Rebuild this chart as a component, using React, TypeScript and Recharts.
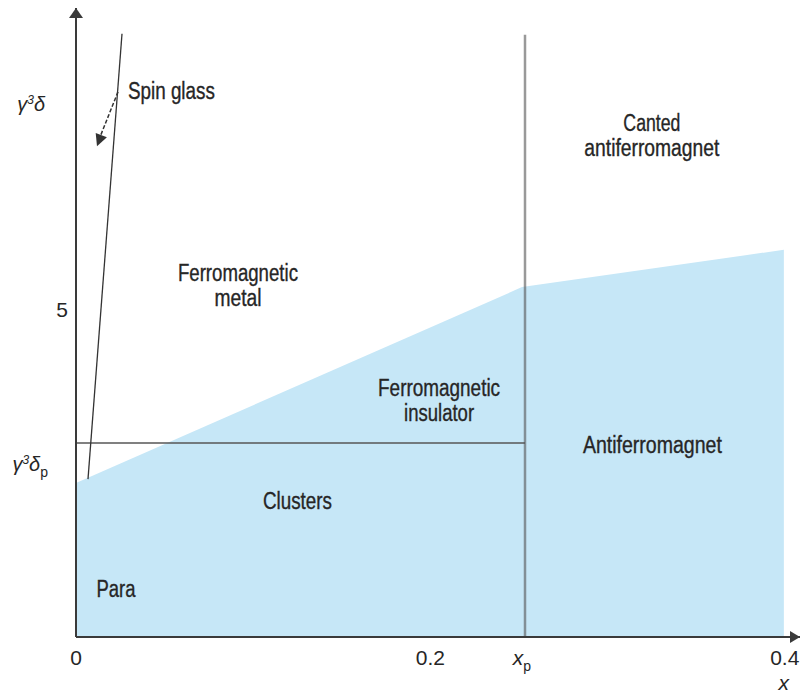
import React from 'react';
import { ComposedChart, Area, XAxis, YAxis, ReferenceLine, ReferenceDot } from 'recharts';

// ---- data ----
const X_MAX = 0.4086;
const Y_MAX = 9.6;
const XP = 0.2534;

const boundaryX = [0, 0.2517, 0.3995];
const boundaryY = [2.35, 5.34, 5.91];

const xTicks = [0, 0.2, XP, 0.4];
const xTickLabels = ['0', '0.2', 'xp', '0.4'];
const yTicks = [2.6, 5, 8.1];
const yTickLabels = ['γ3δp', '5', 'γ3δ'];

const clusterLineY = 2.96;
const xpLineTop = 9.19;
const spinGlassX = [0.00677, 0.02596];
const spinGlassY = [2.41, 9.206];
const spinArrowX = [0.0237, 0.0125];
const spinArrowY = [8.32, 7.56];

const regionNames = [
  { lines: ['Spin glass'], widths: [87], x: 0.0293, y: 8.21, anchor: 'start' },
  { lines: ['Canted', 'antiferromagnet'], widths: [57, 135], x: 0.325, y: 7.725, anchor: 'middle' },
  { lines: ['Ferromagnetic', 'metal'], widths: [120, 47], x: 0.0914, y: 5.435, anchor: 'middle' },
  { lines: ['Ferromagnetic', 'insulator'], widths: [122, 70], x: 0.2049, y: 3.679, anchor: 'middle' },
  { lines: ['Antiferromagnet'], widths: [139], x: 0.3253, y: 2.809, anchor: 'middle' },
  { lines: ['Clusters'], widths: [69], x: 0.125, y: 1.954, anchor: 'middle' },
  { lines: ['Para'], widths: [39], x: 0.02257, y: 0.611, anchor: 'middle' },
];

const areaData = boundaryX.map((x, i) => ({ x, y: boundaryY[i] }));

const FONT = "'Liberation Sans', Arial, sans-serif";
const TEXT_COLOR = '#262626';
const AXIS_COLOR = '#3a3a3a';

const XTick = (props: any) => {
  const { x, y, payload } = props;
  const idx = xTicks.indexOf(payload.value);
  const label = xTickLabels[idx];
  const base = y + 28;
  if (label === 'xp') {
    return (
      <text x={x - 3} y={base} textAnchor="middle" fontFamily={FONT} fontSize={21} fill={TEXT_COLOR}>
        <tspan fontStyle="italic">x</tspan>
        <tspan fontSize={14} dy={6}>p</tspan>
      </text>
    );
  }
  return (
    <g>
      <text x={x} y={base} textAnchor="middle" fontFamily={FONT} fontSize={21} fill={TEXT_COLOR}>
        {label}
      </text>
      {payload.value === 0.4 && (
        <text x={x - 1} y={base + 25} textAnchor="middle" fontFamily={FONT} fontSize={21} fontStyle="italic" fill={TEXT_COLOR}>
          x
        </text>
      )}
    </g>
  );
};

const YTick = (props: any) => {
  const { x, y, payload } = props;
  const idx = yTicks.indexOf(payload.value);
  const label = yTickLabels[idx];
  if (label === '5') {
    return (
      <text x={x - 8} y={y + 7.5} textAnchor="end" fontFamily={FONT} fontSize={21} fill={TEXT_COLOR}>
        5
      </text>
    );
  }
  if (label === 'γ3δ') {
    return (
      <text x={x - 31} y={y + 5} textAnchor="end" fontFamily={FONT} fontSize={20} fontStyle="italic" fill={TEXT_COLOR}>
        <tspan>γ</tspan>
        <tspan fontSize={12} dy={-7}>3</tspan>
        <tspan dy={7}>δ</tspan>
      </text>
    );
  }
  return (
    <text x={x - 28} y={y + 4} textAnchor="end" fontFamily={FONT} fontSize={20} fontStyle="italic" fill={TEXT_COLOR}>
      <tspan>γ</tspan>
      <tspan fontSize={12} dy={-7}>3</tspan>
      <tspan dy={7}>δ</tspan>
      <tspan fontSize={14} fontStyle="normal" dy={6}>p</tspan>
    </text>
  );
};

const arrowHead = (angle: number, len: number, half: number, color: string) => (p: any) => (
  <polygon
    points={`0,0 ${-len},${-half} ${-len},${half}`}
    transform={`translate(${p.cx},${p.cy}) rotate(${angle})`}
    fill={color}
  />
);

const regionLabel = (item: any) => (p: any) => (
  <g>
    {item.lines.map((l: string, i: number) => (
      <text
        key={i}
        x={p.cx}
        y={p.cy + i * 25}
        textAnchor={item.anchor}
        fontFamily={FONT}
        fontSize={23}
        fill={TEXT_COLOR}
        stroke={TEXT_COLOR}
        strokeWidth={0.35}
        textLength={item.widths[i]}
        lengthAdjust="spacingAndGlyphs"
      >
        {l}
      </text>
    ))}
  </g>
);

export default function App() {
  return (
    <div style={{ position: 'absolute', left: 0, top: 0, width: 801, height: 698, background: '#fff' }}>
      <ComposedChart
        width={801}
        height={698}
        data={areaData}
        margin={{ top: 8, right: 1, bottom: 11, left: 0 }}
      >
        <XAxis
          type="number"
          dataKey="x"
          domain={[0, X_MAX]}
          allowDataOverflow
          ticks={xTicks}
          interval={0}
          tick={<XTick />}
          tickLine={false}
          tickSize={0}
          tickMargin={0}
          height={50}
          axisLine={{ stroke: AXIS_COLOR, strokeWidth: 2 }}
        />
        <YAxis
          type="number"
          domain={[0, Y_MAX]}
          allowDataOverflow
          ticks={yTicks}
          interval={0}
          tick={<YTick />}
          tickLine={false}
          tickSize={0}
          tickMargin={0}
          width={76}
          axisLine={{ stroke: AXIS_COLOR, strokeWidth: 2 }}
        />
        <Area
          type="linear"
          dataKey="y"
          stroke="none"
          fill="#c6e7f7"
          fillOpacity={1}
          isAnimationActive={false}
          dot={false}
          activeDot={false}
        />
        <ReferenceLine
          segment={[{ x: 0, y: clusterLineY }, { x: XP, y: clusterLineY }]}
          stroke="#555"
          strokeOpacity={0.75}
          strokeWidth={2}
        />
        <ReferenceLine
          segment={[{ x: XP, y: 0 }, { x: XP, y: xpLineTop }]}
          stroke="#555"
          strokeOpacity={0.6}
          strokeWidth={2.5}
        />
        <ReferenceLine
          segment={[{ x: spinGlassX[0], y: spinGlassY[0] }, { x: spinGlassX[1], y: spinGlassY[1] }]}
          stroke="#333"
          strokeWidth={1.3}
        />
        <ReferenceLine
          segment={[{ x: spinArrowX[0], y: spinArrowY[0] }, { x: spinArrowX[1], y: spinArrowY[1] }]}
          stroke="#333"
          strokeWidth={1.5}
          strokeDasharray="4 2"
        />
        <ReferenceDot x={0.01185} y={7.49} r={1} ifOverflow="visible" shape={arrowHead(111, 12, 6, '#333')} />
        <ReferenceDot x={0} y={Y_MAX} r={1} ifOverflow="visible" shape={arrowHead(-90, 10, 7, AXIS_COLOR)} />
        <ReferenceDot x={X_MAX} y={0} r={1} ifOverflow="visible" shape={arrowHead(0, 10, 6, AXIS_COLOR)} />
        {regionNames.map((item, i) => (
          <ReferenceDot key={i} x={item.x} y={item.y} r={1} ifOverflow="visible" shape={regionLabel(item)} />
        ))}
      </ComposedChart>
    </div>
  );
}
